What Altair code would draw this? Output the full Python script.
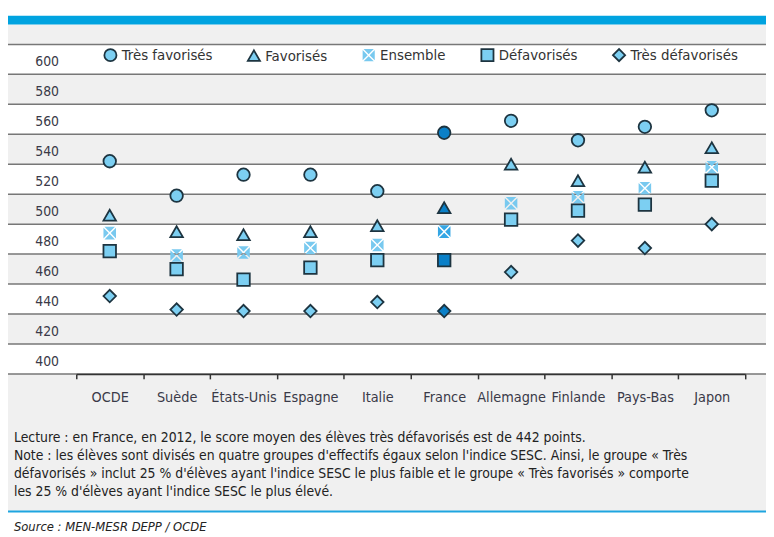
import altair as alt
import pandas as pd

FONT = "DejaVu Sans Condensed"

countries = ["OCDE", "Suède", "États-Unis", "Espagne", "Italie", "France",
             "Allemagne", "Finlande", "Pays-Bas", "Japon"]
groups = ["Très favorisés", "Favorisés", "Ensemble", "Défavorisés", "Très défavorisés"]

tres_favorises = [542, 519, 533, 533, 522, 561, 569, 556, 565, 576]
favorises = [506, 495, 493, 495, 499, 511, 540, 529, 538, 551]
ensemble = [494, 479, 481, 484, 486, 495, 514, 518, 524, 538]
defavorises = [482, 470, 463, 471, 476, 476, 503, 509, 513, 529]
tres_defavorises = [452, 443, 442, 442, 448, 442, 468, 489, 484, 500]

y_grid = [400, 420, 440, 460, 480, 500, 520, 540, 560, 580, 600, 620]
y_labels = [400, 420, 440, 460, 480, 500, 520, 540, 560, 580, 600]
white_band_starts = [400, 440, 480, 520, 560, 600]

notes = [
    "Lecture : en France, en 2012, le score moyen des élèves très défavorisés est de 442 points.",
    "Note : les élèves sont divisés en quatre groupes d'effectifs égaux selon l'indice SESC. Ainsi, le groupe « Très",
    "défavorisés »  inclut 25 % d'élèves ayant l'indice SESC le plus faible et le groupe « Très favorisés » comporte",
    "les 25 % d'élèves ayant l'indice SESC le plus élevé.",
]
source = "Source : MEN-MESR DEPP / OCDE"

series = [tres_favorises, favorises, ensemble, defavorises, tres_defavorises]
rows = []
for g, vals in zip(groups, series):
    for c, v in zip(countries, vals):
        rows.append({"pays": c, "groupe": g, "score": v})
df = pd.DataFrame(rows)
df_main = df[df["pays"] != "France"]
df_fr = df[df["pays"] == "France"]

ENS_PATH = ("M-0.84,-1L0.84,-1L0,-0.16Z M1,-0.84L1,0.84L0.16,0Z "
            "M0.84,1L-0.84,1L0,0.16Z M-1,0.84L-1,-0.84L-0.16,0Z")
shape_scale = alt.Scale(domain=groups,
                        range=["circle", "triangle-up", ENS_PATH, "square", "diamond"])
fill_scale = alt.Scale(domain=groups,
                       range=["#7ccff2", "#7ccff2", "#78c9ef", "#7ccff2", "#7ccff2"])
stroke_scale = alt.Scale(domain=groups,
                         range=["#1d3440", "#1d3440", "transparent", "#1d3440", "#1d3440"])

yscale = alt.Scale(domain=[400, 620], nice=False, zero=False)
y_axis = alt.Axis(title=None, values=y_labels, domain=False, ticks=False,
                  tickSize=0, grid=False, labelAlign="left", labelPadding=42,
                  labelBaseline="bottom", labelOffset=-6, labelFont=FONT,
                  labelFontSize=14, labelColor="#3a3a48", zindex=1,
                  labelOverlap=False)
XL, XR = -69, 697

one = pd.DataFrame({"k": [0]})

bg = alt.Chart(one).mark_rect(color="#f0f0f0").encode(
    x=alt.value(XL), x2=alt.value(XR), y=alt.value(-20), y2=alt.value(472))

top_bar = alt.Chart(one).mark_rect(color="#00a3e0").encode(
    x=alt.value(XL), x2=alt.value(XR), y=alt.value(-29), y2=alt.value(-20))

white_df = pd.DataFrame({"lo": white_band_starts, "hi": [v + 20 for v in white_band_starts]})
bands = alt.Chart(white_df).mark_rect(color="white").encode(
    y=alt.Y("lo:Q", scale=yscale, axis=y_axis), y2="hi:Q", x=alt.value(XL), x2=alt.value(XR))

grid_df = pd.DataFrame({"v": y_grid})
grid = alt.Chart(grid_df).mark_rule(color="#777777", strokeWidth=1.5).encode(
    y=alt.Y("v:Q", scale=yscale, axis=y_axis), x=alt.value(XL), x2=alt.value(XR))

bottom_line = alt.Chart(one).mark_rule(color="#1ea5e0", strokeWidth=2).encode(
    x=alt.value(XL), x2=alt.value(XR), y=alt.value(472))

notes_txt = alt.Chart(one).mark_text(
    align="left", baseline="middle", font=FONT, fontSize=14, lineHeight=18,
    color="#222222").encode(
    x=alt.value(-63), y=alt.value(398), text=alt.value(notes))

source_txt = alt.Chart(one).mark_text(
    align="left", baseline="middle", font=FONT, fontSize=13, fontStyle="italic",
    color="#222222").encode(
    x=alt.value(-63), y=alt.value(488), text=alt.value(source))

x_enc = alt.X("pays:N", sort=countries,
              scale=alt.Scale(type="band", paddingInner=0, paddingOuter=0),
              axis=alt.Axis(title=None, tickBand="extent", domainColor="#333333",
                            domainWidth=1.5, tickColor="#333333", tickWidth=1.5,
                            tickSize=5, labelAngle=0, labelFont=FONT, labelFontSize=14.5,
                            labelColor="#3a3a48", labelPadding=12, grid=False, zindex=1,
                            labelOverlap=False))
y_enc = alt.Y("score:Q", scale=yscale, axis=y_axis)

legend = alt.Legend(orient="none", legendX=27, legendY=3, direction="horizontal",
                    title=None, labelFont=FONT, labelFontSize=15, labelColor="#333333",
                    symbolSize=150, symbolStrokeWidth=1.8, columnPadding=31,
                    labelOffset=4, zindex=1)

pts = alt.Chart(df_main).mark_point(filled=True, size=160, strokeWidth=1.8, opacity=1).encode(
    x=x_enc, y=y_enc,
    shape=alt.Shape("groupe:N", scale=shape_scale, legend=legend),
    fill=alt.Fill("groupe:N", scale=fill_scale, legend=legend),
    stroke=alt.Stroke("groupe:N", scale=stroke_scale, legend=legend),
)

pts_fr = alt.Chart(df_fr).mark_point(filled=True, size=160, strokeWidth=1.8, opacity=1).encode(
    x=x_enc, y=y_enc,
    shape=alt.Shape("groupe:N", scale=shape_scale, legend=legend),
    stroke=alt.Stroke("groupe:N", scale=stroke_scale, legend=legend),
    fill=alt.condition(alt.datum.groupe == "Ensemble",
                       alt.value("#34a6e4"), alt.value("#0a80c8")),
)

chart = alt.layer(bg, top_bar, bands, grid, bottom_line, notes_txt, source_txt, pts, pts_fr).properties(
    width=676, height=333,
    autosize=alt.AutoSizeParams(type="none"),
    padding={"left": 69, "top": 34, "right": 21, "bottom": 160},
    background="white",
).configure_view(stroke=None)

chart.save("out.html", embed_options={"renderer": "svg", "actions": False})
